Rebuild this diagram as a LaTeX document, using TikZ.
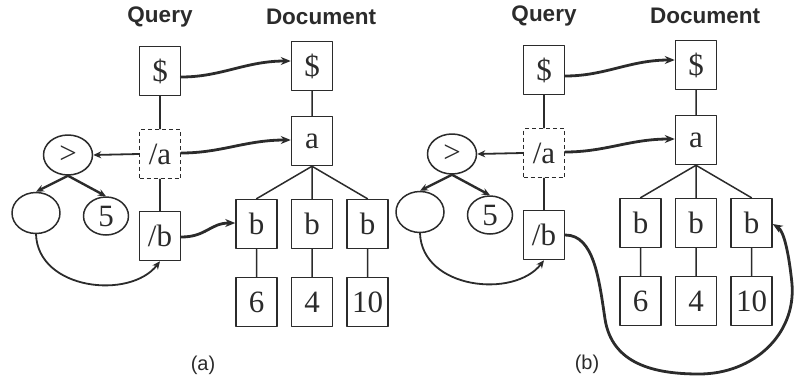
\documentclass[tikz,border=0pt]{standalone}
\usepackage{fontspec}
\setmainfont{Liberation Serif}
\setsansfont{Liberation Sans}
\newfontfamily\nodefont{Liberation Serif}
\usetikzlibrary{shapes.geometric,arrows.meta,calc}
\definecolor{ink}{gray}{0.17}
\begin{document}
\begin{tikzpicture}[x=1pt,y=-1pt,line join=round,line cap=round,
    box/.style={draw=ink,text=ink,line width=1.5pt,minimum width=41pt,minimum height=49pt,inner sep=0pt,font=\nodefont\fontsize{31}{31}\selectfont},
    qdash/.style={box,dash pattern=on 4pt off 3pt,line cap=butt},
    oval/.style={ellipse,draw=ink,text=ink,line width=1.5pt,inner sep=0pt,font=\nodefont\fontsize{31}{31}\selectfont},
    head/.style={text=ink,font=\sffamily\bfseries\fontsize{22.5}{22.5}\selectfont},
    edge/.style={draw=ink,line width=1.5pt},
    link/.style={draw=ink,line width=1.8pt,-{Stealth[length=8pt,width=7pt]}},
    match/.style={draw=ink,line width=2.8pt,-{Stealth[length=10pt,width=8pt]}}]
  \useasboundingbox (0,0) rectangle (794,383);
  \foreach \p/\dx/\dy in {a/0/0,b/384/-1}{
    \begin{scope}[shift={(\dx,\dy)}]
      %Tieu de
      \node[head] at (160,17) {Query};
      \node[head] at (321,17) {Document};
      \node[text=ink,font=\sffamily\fontsize{20}{20}\selectfont] at (203,365) {(\p)};
      %Cay truy van
      \node[box] (qs\p) at (160,71) {\$};
      \node[qdash] (qa\p) at (160,154) {/a};
      \node[box] (qb\p) at (160,236) {/b};
      \node[oval,minimum width=49pt,minimum height=40pt] (gt\p) at (68,155) {>};
      \node[oval,minimum width=48pt,minimum height=41pt] (ev\p) at (36,213) {};
      \node[oval,minimum width=45pt,minimum height=38pt] (fv\p) at (106,216) {5};
      \draw[edge] (qs\p)--(qa\p) (qa\p)--(qb\p);
      \draw[link] (qa\p.west)--(gt\p.east);
      \draw[link,line width=2.4pt] (gt\p.south)--(ev\p.north);
      \draw[link,line width=2.4pt] (gt\p.south)--(fv\p.north);
      \draw[link] (ev\p.south) .. controls (38,290) and (130,300) .. (qb\p.south);
      %Cay tai lieu
      \node[box] (ds\p) at (312,66) {\$};
      \node[box] (da\p) at (312,141) {a};
      \node[box] (bo\p) at (256.5,224) {b};
      \node[box] (bt\p) at (312,224) {b};
      \node[box] (bh\p) at (367.5,224) {b};
      \node[box] (no\p) at (256.5,302) {6};
      \node[box] (nt\p) at (312,302) {4};
      \node[box] (nh\p) at (367.5,302) {10};
      \draw[edge] (ds\p)--(da\p) (da\p.south)--(bo\p.north) (da\p.south)--(bt\p.north) (da\p.south)--(bh\p.north)
        (bo\p)--(no\p) (bt\p)--(nt\p) (bh\p)--(nh\p);
      %Khop
      \draw[match] ($(qs\p.east)+(0,6)$) .. controls +(40,0) and +(-45,0) .. ($(ds\p.west)+(0,-5)$);
      \draw[match] ($(qa\p.east)+(0,-1)$) .. controls +(40,0) and +(-45,0) .. ($(da\p.west)+(0,-1)$);
    \end{scope}
  }
  %Khop cua /b
  \draw[match] ($(qba.east)+(0,1)$) .. controls +(25,0) and +(-25,0) .. ($(boa.west)+(0,-1)$);
  \begin{scope}[shift={(384,-1)}]
    \draw[match] (qbb.east) .. controls (210,236) and (215,280) .. (221,320)
      .. controls (228,365) and (270,375) .. (315,375)
      .. controls (370,375) and (412,335) .. (408,285)
      .. controls (405,255) and (400,232) .. ($(bhb.east)+(0,1)$);
  \end{scope}
\end{tikzpicture}
\end{document}
